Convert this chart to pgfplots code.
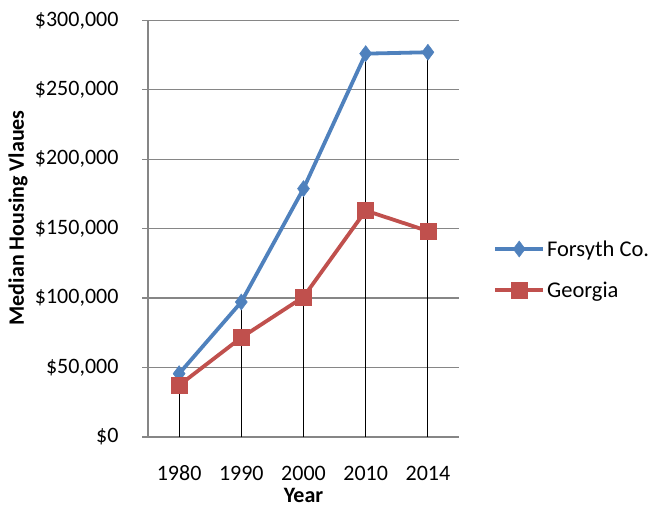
\documentclass[border=0pt]{standalone}
\usepackage{pgfplots}
\pgfplotsset{compat=1.18}
\usepackage{fontspec}
\setmainfont{Carlito}

\definecolor{xlblue}{RGB}{79,129,189}
\definecolor{xlred}{RGB}{192,80,77}
\definecolor{xlgrid}{RGB}{134,134,134}

\begin{document}
\begin{tikzpicture}[x=1pt,y=1pt]
\useasboundingbox (0,0) rectangle (652,514);
\begin{axis}[
at={(148pt,77pt)}, anchor=south west,
scale only axis,
width=311pt, height=416.7pt,
font=\fontsize{22}{26}\selectfont,
scaled y ticks=false,
xmin=-0.5, xmax=4.5,
ymin=0, ymax=300000,
xtick={0,1,2,3,4},
xticklabels={1980,1990,2000,2010,2014},
ytick={0,50000,100000,150000,200000,250000,300000},
yticklabels={{\$0},{\$50,000},{\$100,000},{\$150,000},{\$200,000},{\$250,000},{\$300,000}},
/pgf/number format/assume math mode=true,
axis x line*=bottom, axis y line*=left,
axis line style={xlgrid, line width=1.3pt, -},
x axis line style={draw=none},
ymajorgrids, grid style={xlgrid, line width=1.3pt},
xtick style={draw=none},
ytick style={xlgrid, line width=1.3pt},
major tick length=6pt,
tick align=outside,
yticklabel style={anchor=east, xshift=-20pt},
xticklabel style={anchor=center, yshift=-30pt},
xlabel={\textbf{Year}},
ylabel={\textbf{Median Housing Vlaues}},
xlabel style={at={(rel axis cs:0.5,0)}, anchor=center, yshift=-58pt},
ylabel style={at={(rel axis cs:0,0.526)}, anchor=center, yshift=130pt},
clip=false,
legend style={draw=none, fill=none, at={(1.1,0.402)}, anchor=west,
  row sep=20pt, font=\fontsize{22.5}{26}\selectfont},
legend cell align=left,
legend image code/.code={
  \draw[#1, mark=none] (0pt,0pt) -- (48pt,0pt);
  \draw[#1, only marks] plot coordinates {(24pt,0pt)};
},
]
\addplot [xlblue, line width=3.8pt, mark=diamond*, mark size=8pt, mark options={solid, line width=0.5pt}]
coordinates {(0,45600) (1,97200) (2,178800) (3,276000) (4,277000)};
\addlegendentry{Forsyth Co.}
\addplot [xlred, line width=3.8pt, mark=square*, mark size=8pt, mark options={solid, line width=0.5pt}]
coordinates {(0,37200) (1,71600) (2,100800) (3,163000) (4,148300)};
\addlegendentry{Georgia}
% drop lines from the upper series
\addplot [black, line width=1.1pt, ycomb, mark=none, forget plot]
coordinates {(0,45600) (1,97200) (2,178800) (3,276000) (4,277000)};
\end{axis}
\end{tikzpicture}
\end{document}
